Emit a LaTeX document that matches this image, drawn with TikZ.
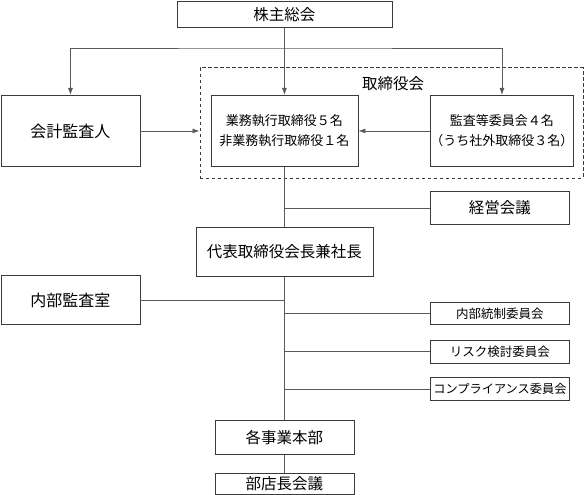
\documentclass[tikz,border=0pt]{standalone}
\usepackage{fontspec}
\setmainfont{Noto Sans CJK JP}
\usetikzlibrary{arrows.meta}
\definecolor{boxline}{HTML}{3A3A3A}
\definecolor{conn}{HTML}{5A5A5A}
\tikzset{
  box/.style={draw=boxline, line width=0.9pt, inner sep=0pt, align=center, anchor=north west},
  conline/.style={draw=conn, line width=0.8pt},
  arr/.style={conline, -{Latex[length=7pt,width=5pt]}},
  arrboth/.style={conline, {Latex[length=7pt,width=5pt]}-{Latex[length=7pt,width=5pt]}},
}
\begin{document}
\begin{tikzpicture}[x=1pt,y=-1pt]
\useasboundingbox (0,0) rectangle (584,495);
% board (dashed)
\node[box, dashed, dash pattern=on 3.5pt off 2.5pt, minimum width=383pt, minimum height=110pt] (board) at (199.5,67.5) {};
\node[font=\fontsize{15.5pt}{18pt}\selectfont, inner sep=0pt] (boardlbl) at (393,84) {取締役会};
% boxes
\node[box, minimum width=215pt, minimum height=26pt, font=\fontsize{15.5pt}{18pt}\selectfont] (kabu) at (176.5,1) {株主総会};
\node[box, minimum width=139pt, minimum height=71pt, font=\fontsize{16pt}{19pt}\selectfont] (kaikei) at (0.5,95) {会計監査人};
\node[box, minimum width=147pt, minimum height=71pt, font=\fontsize{13pt}{20pt}\selectfont] (gyomu) at (210.5,95) {業務執行取締役５名\\非業務執行取締役１名};
\node[box, minimum width=139pt, minimum height=71pt, font=\fontsize{13pt}{20pt}\selectfont] (kansa) at (430,95) {監査等委員会４名\\（うち社外取締役３名）};
\node[box, minimum width=139pt, minimum height=33pt, font=\fontsize{15.5pt}{18pt}\selectfont] (keiei) at (430,191) {経営会議};
\node[box, minimum width=177pt, minimum height=49pt, font=\fontsize{15.5pt}{18pt}\selectfont] (daihyo) at (195.5,227) {代表取締役会長兼社長};
\node[box, minimum width=139pt, minimum height=49pt, font=\fontsize{16pt}{19pt}\selectfont] (naibukansa) at (0.5,275) {内部監査室};
\node[box, minimum width=139pt, minimum height=22pt, font=\fontsize{12.5pt}{15pt}\selectfont] (naibutosei) at (430,302) {内部統制委員会};
\node[box, minimum width=139pt, minimum height=23pt, font=\fontsize{12.5pt}{15pt}\selectfont] (risk) at (430,339.5) {リスク検討委員会};
\node[box, minimum width=139pt, minimum height=23pt, font=\fontsize{12.2pt}{15pt}\selectfont] (comp) at (430,377) {コンプライアンス委員会};
\node[box, minimum width=139pt, minimum height=34pt, font=\fontsize{15.5pt}{18pt}\selectfont] (jigyo) at (214.5,420) {各事業本部};
\node[box, minimum width=139pt, minimum height=21pt, font=\fontsize{15.5pt}{18pt}\selectfont] (buten) at (214.5,473) {部店長会議};
% connectors
\coordinate (bus) at (284,48);
\draw[arrboth] (kaikei.north) |- (bus) -| (kansa.north);
\draw[arr] (kabu.south) -- (gyomu.north);
\draw[arr] (kaikei.east) -- (kaikei.east -| board.west);
\draw[arr] (kansa.west) -- (kansa.west -| gyomu.east);
\draw[conline] (gyomu.south) -- (daihyo.north);
\draw[conline] (daihyo.south) -- (jigyo.north);
\draw[conline] (jigyo.south) -- (buten.north);
\draw[conline] (keiei.west) -- (keiei.west -| gyomu.south);
\draw[conline] (naibukansa.east) -- (naibukansa.east -| daihyo.south);
\draw[conline] (naibutosei.west) -- (naibutosei.west -| daihyo.south);
\draw[conline] (risk.west) -- (risk.west -| daihyo.south);
\draw[conline] (comp.west) -- (comp.west -| daihyo.south);
\end{tikzpicture}
\end{document}
